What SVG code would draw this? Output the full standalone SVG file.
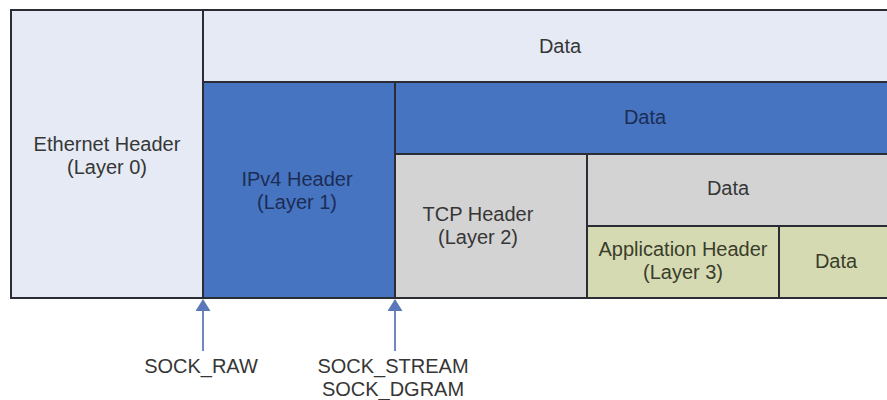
<svg xmlns="http://www.w3.org/2000/svg" width="887" height="400" viewBox="0 0 887 400">
<defs>
<style>
.b{stroke:#2a2d33;stroke-width:2}
.lt{fill:#e5eaf5}
.bl{fill:#4674c1}
.gr{fill:#d3d3d3}
.ol{fill:#d5dab3}
text{font-family:"Liberation Sans",Arial,sans-serif;font-size:20px;fill:#363636;text-anchor:middle}
.dk{fill:#1b2d55}
.og{fill:#3a3d2a}
.conn{stroke:#6f89c0;stroke-width:2;fill:none}
</style>
<marker id="ah" viewBox="0 0 12 15" refX="11" refY="7.5" markerWidth="12" markerHeight="15" markerUnits="userSpaceOnUse" orient="auto">
<path d="M0,0 L12,7.5 L0,15 Z" fill="#5a78b8"/>
</marker>
</defs>
<rect x="0" y="0" width="887" height="400" fill="#fff"/>
<g id="ethernet"><rect class="b lt" x="11" y="10" width="192" height="288"/><text x="107" y="151">Ethernet Header</text><text x="107" y="174">(Layer 0)</text></g>
<g id="data0"><rect class="b lt" x="203" y="10" width="690" height="72"/><text x="560" y="53">Data</text></g>
<g id="ipv4"><rect class="b bl" x="203" y="82" width="192" height="216"/><text class="dk" x="297" y="186">IPv4 Header</text><text class="dk" x="297" y="209">(Layer 1)</text></g>
<g id="data1"><rect class="b bl" x="395" y="82" width="498" height="72"/><text class="dk" x="645" y="124">Data</text></g>
<g id="tcp"><rect class="b gr" x="395" y="154" width="192" height="144"/><text x="478" y="221">TCP Header</text><text x="478" y="244">(Layer 2)</text></g>
<g id="data2"><rect class="b gr" x="587" y="154" width="306" height="72"/><text x="728" y="195">Data</text></g>
<g id="app"><rect class="b ol" x="587" y="226" width="192" height="72"/><text class="og" x="683" y="256">Application Header</text><text class="og" x="683" y="279">(Layer 3)</text></g>
<g id="data3"><rect class="b ol" x="779" y="226" width="114" height="72"/><text class="og" x="836" y="268">Data</text></g>
<g id="connectors">
<line class="conn" x1="203" y1="351" x2="203" y2="300" marker-end="url(#ah)"/>
<line class="conn" x1="395" y1="351" x2="395" y2="300" marker-end="url(#ah)"/>
</g>
<g id="sock_raw"><text x="201" y="373">SOCK_RAW</text></g>
<g id="sock_stream"><text x="393" y="373">SOCK_STREAM</text><text x="393" y="396">SOCK_DGRAM</text></g>
</svg>
